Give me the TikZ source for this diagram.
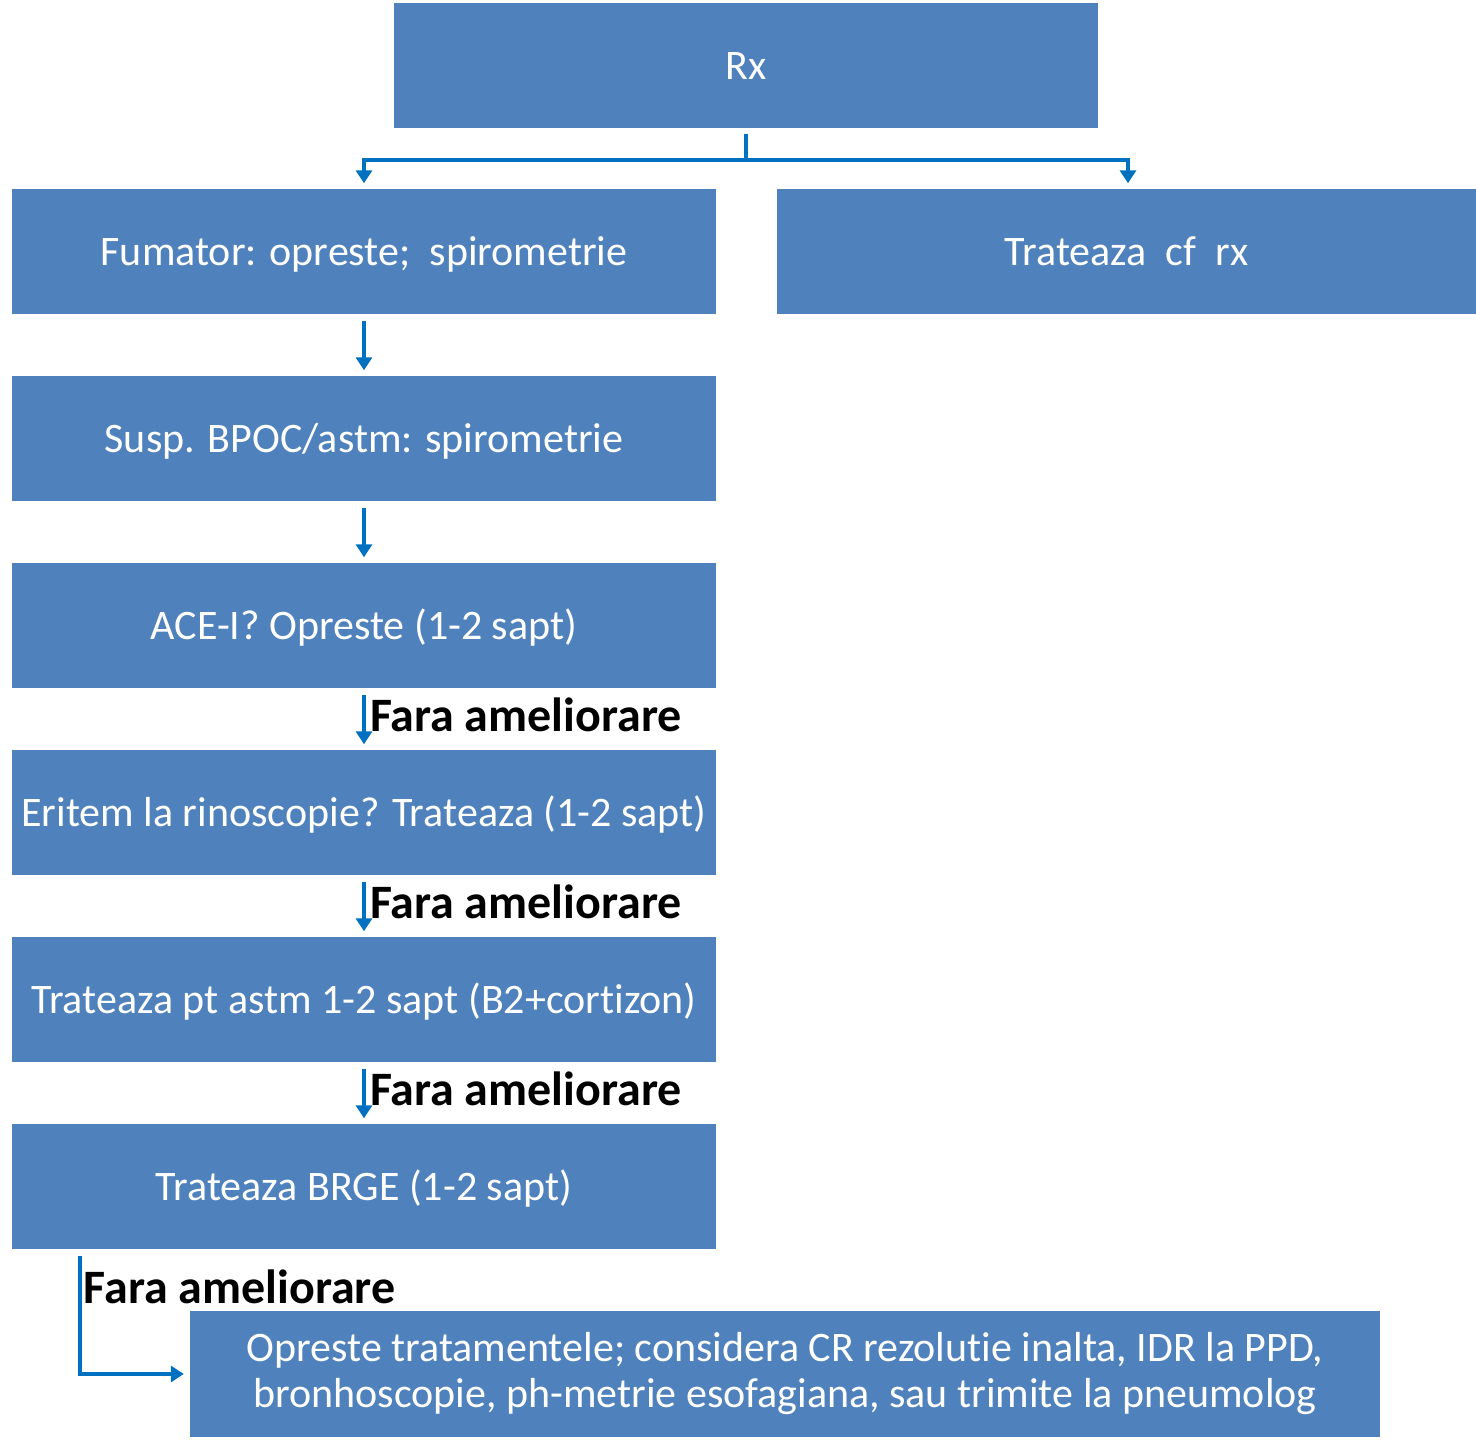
\documentclass[tikz,border=0pt]{standalone}
\usepackage{fontspec}
\setmainfont{Carlito}[Ligatures=NoCommon]
\usepackage{xcolor}
\usetikzlibrary{arrows.meta}
\definecolor{boxblue}{HTML}{4F81BD}
\definecolor{linkblue}{HTML}{0070C0}
\tikzstyle{bluebox}=[fill=boxblue,text=white,minimum width=704pt,minimum height=125pt,inner sep=0pt,font=\fontsize{42}{46}\selectfont]
\tikzstyle{stepbox}=[bluebox,text height=37pt,text depth=10pt]
\tikzstyle{flow}=[draw=linkblue,line width=4pt,>={Triangle[length=13pt,width=16pt]}]
\tikzstyle{lbl}=[font=\fontsize{48}{54}\selectfont\bfseries,text=black]
\begin{document}
\begin{tikzpicture}[x=1pt,y=1pt]
	\useasboundingbox (0,0) rectangle (1476,1440);
	% boxes
	\node[stepbox] (rx)   at (746,1374) {Rx};
	\node[stepbox] (fum)  at (364,1188) {Fumator: opreste;\ \ spirometrie};
	\node[stepbox,minimum width=699pt] (trat) at (1126.5,1188) {Trateaza\ \ cf\ \ rx};
	\node[stepbox] (susp) at (364,1001) {Susp. BPOC/astm: spirometrie};
	\node[stepbox] (ace)  at (364,814)  {ACE-I? Opreste (1-2 sapt)};
	\node[stepbox] (erit) at (364,627)  {Eritem la rinoscopie? Trateaza (1-2 sapt)};
	\node[stepbox] (astm) at (364,440)  {Trateaza pt astm 1-2 sapt (B2+cortizon)};
	\node[stepbox] (brge) at (364,253)  {Trateaza BRGE (1-2 sapt)};
	\node[bluebox,minimum width=1190pt,minimum height=126pt,align=center] (opr) at (785,66)
		{\rule[-6pt]{0pt}{6pt}Opreste tratamentele; considera CR rezolutie inalta, IDR la PPD,\\ bronhoscopie, ph-metrie esofagiana, sau trimite la pneumolog};
	% split under Rx
	\draw[flow] ([yshift=-5pt]rx.south) -- ++(0,-26) coordinate (split);
	\draw[flow,->] (split) -| ([yshift=6pt]fum.north);
	\draw[flow,->] (split) -| ([xshift=1.5pt,yshift=6pt]trat.north);
	% main column
	\draw[flow,->] ([yshift=-6pt]fum.south) -- ([yshift=6pt]susp.north);
	\draw[flow,->] ([yshift=-6pt]susp.south) -- ([yshift=6pt]ace.north);
	\draw[flow,->] ([yshift=-6pt]ace.south) -- node[lbl,right,inner sep=4pt,yshift=5pt] (fa1) {Fara ameliorare} ([yshift=6pt]erit.north);
	\draw[flow,->] ([yshift=-6pt]erit.south) -- node[lbl,right,inner sep=4pt,yshift=5pt] (fa2) {Fara ameliorare} ([yshift=6pt]astm.north);
	\draw[flow,->] ([yshift=-6pt]astm.south) -- node[lbl,right,inner sep=4pt,yshift=5pt] (fa3) {Fara ameliorare} ([yshift=6pt]brge.north);
	\draw[flow,->] ([xshift=68pt,yshift=-6pt]brge.south west) |- node[lbl,right,pos=0.13,inner sep=2pt] (fa4) {Fara ameliorare} ([xshift=-6pt]opr.west);
\end{tikzpicture}
\end{document}
